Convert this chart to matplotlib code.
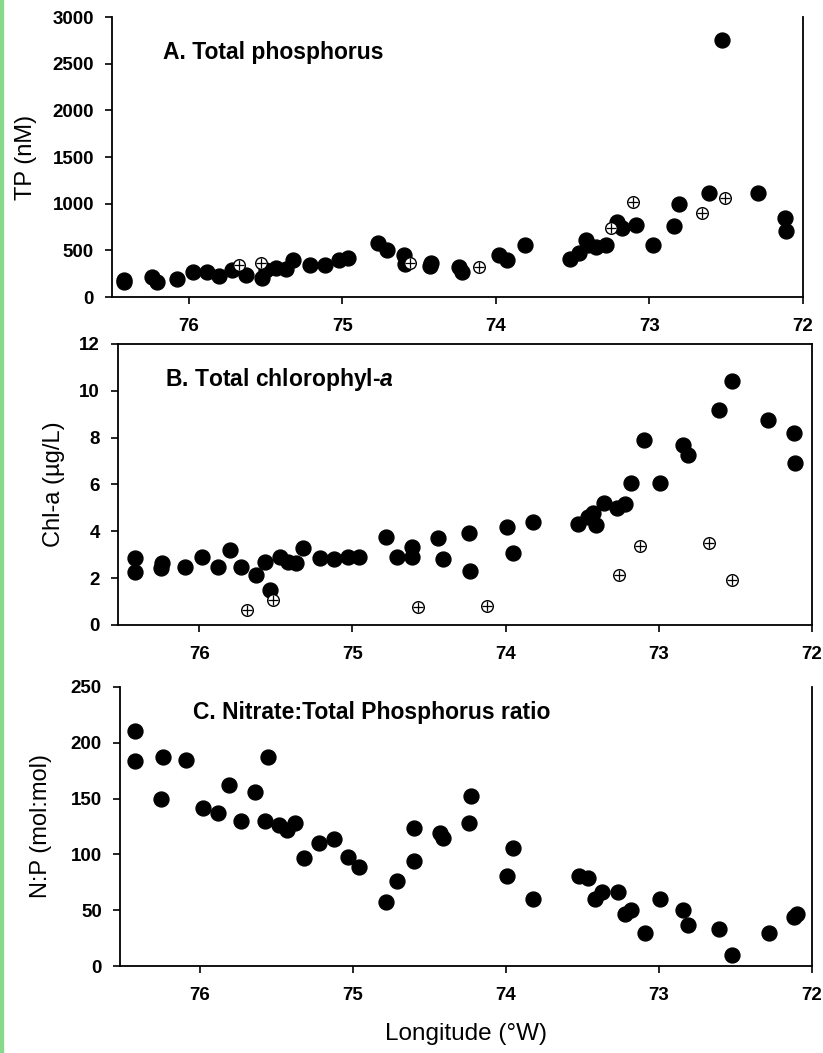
import numpy as np
import matplotlib.pyplot as plt
from matplotlib.patches import Rectangle

plt.rcParams['font.family'] = ['Liberation Sans', 'DejaVu Sans']
plt.rcParams['mathtext.fontset'] = 'custom'
plt.rcParams['mathtext.it'] = 'Liberation Sans:italic:bold'
plt.rcParams['mathtext.rm'] = 'Liberation Sans:bold'

# A. Total phosphorus (nM)
tp_lon = [76.42, 76.42, 76.24, 76.21, 76.08, 75.97, 75.88, 75.80, 75.72, 75.63,
          75.52, 75.50, 75.43, 75.37, 75.32, 75.21, 75.11, 75.02, 74.96, 74.77,
          74.71, 74.60, 74.59, 74.42, 74.43, 74.24, 74.22, 73.98, 73.93, 73.81,
          73.52, 73.46, 73.41, 73.40, 73.35, 73.28, 73.21, 73.18, 73.09, 72.98,
          72.84, 72.81, 72.61, 72.53, 72.29, 72.12, 72.11]
tp_val = [180, 160, 210, 165, 195, 265, 265, 225, 290, 235,
          200, 290, 310, 300, 395, 345, 345, 395, 420, 580,
          505, 450, 350, 365, 330, 320, 270, 450, 395, 555,
          405, 470, 610, 555, 535, 555, 800, 740, 770, 555,
          760, 995, 1115, 2750, 1115, 845, 705]
tp_open_lon = [75.67, 75.53, 74.56, 74.11, 73.25, 73.11, 72.66, 72.51]
tp_open_val = [340, 365, 365, 320, 740, 1020, 900, 1060]

# B. Total chlorophyll-a (ug/L)
chl_lon = [76.42, 76.42, 76.25, 76.24, 76.09, 75.98, 75.88, 75.80, 75.73, 75.63,
           75.57, 75.54, 75.47, 75.42, 75.37, 75.32, 75.21, 75.12, 75.03, 74.96,
           74.78, 74.71, 74.61, 74.61, 74.44, 74.41, 74.24, 74.23, 73.99, 73.95,
           73.82, 73.53, 73.46, 73.43, 73.41, 73.36, 73.27, 73.22, 73.18, 73.10,
           72.99, 72.84, 72.81, 72.61, 72.52, 72.29, 72.12, 72.11]
chl_val = [2.86, 2.26, 2.44, 2.65, 2.48, 2.91, 2.48, 3.20, 2.48, 2.14,
           2.69, 1.50, 2.90, 2.69, 2.65, 3.29, 2.86, 2.82, 2.90, 2.90,
           3.76, 2.90, 3.33, 2.90, 3.72, 2.82, 3.93, 2.31, 4.19, 3.08,
           4.40, 4.32, 4.62, 4.79, 4.27, 5.21, 5.00, 5.17, 6.07, 7.90,
           6.07, 7.69, 7.26, 9.19, 10.43, 8.76, 8.20, 6.92]
chl_open_lon = [75.69, 75.52, 74.57, 74.12, 73.26, 73.12, 72.67, 72.52]
chl_open_val = [0.64, 1.07, 0.77, 0.81, 2.14, 3.38, 3.50, 1.92]

# C. Nitrate : total phosphorus (mol:mol)
np_lon = [76.42, 76.42, 76.25, 76.24, 76.09, 75.98, 75.88, 75.81, 75.73, 75.64,
          75.57, 75.55, 75.48, 75.43, 75.38, 75.32, 75.22, 75.12, 75.03, 74.96,
          74.78, 74.71, 74.60, 74.60, 74.43, 74.41, 74.24, 74.23, 73.99, 73.95,
          73.82, 73.52, 73.46, 73.42, 73.37, 73.27, 73.22, 73.18, 73.09, 72.99,
          72.84, 72.81, 72.61, 72.52, 72.28, 72.12, 72.10]
np_val = [211, 184, 150, 187, 185, 142, 137, 162, 130, 156,
          130, 187, 126, 122, 128, 97, 110, 114, 98, 89,
          57, 76, 124, 94, 119, 115, 128, 152, 81, 106,
          60, 81, 79, 60, 66, 66, 47, 50, 30, 60,
          50, 37, 33, 10, 30, 44, 47]

xticks = [76, 75, 74, 73, 72]

fig = plt.figure(figsize=(8.23, 10.53), dpi=100)
fig.patches.append(Rectangle((0, 0), 3 / 823, 1, transform=fig.transFigure,
                             color='#86d98a', zorder=0))

axA = fig.add_axes([0.1361, 0.7179, 0.8396, 0.2659])
axB = fig.add_axes([0.1434, 0.4065, 0.8433, 0.2669])
axC = fig.add_axes([0.1458, 0.0826, 0.8408, 0.2650])


def style(ax, xmin, top_spine):
    ax.set_xlim(xmin, 72)
    ax.set_xticks(xticks)
    ax.set_xticklabels([str(t) for t in xticks])
    for s in ax.spines.values():
        s.set_linewidth(1.3)
    ax.spines['top'].set_visible(top_spine)
    ax.tick_params(axis='both', direction='out', length=5, width=1.2,
                   labelsize=13.5, right=False, top=False)
    ax.tick_params(axis='x', pad=10)
    ax.tick_params(axis='y', pad=8)
    for lab in ax.get_xticklabels() + ax.get_yticklabels():
        lab.set_fontweight('bold')


def draw_open(ax, lon, val):
    ax.scatter(lon, val, s=70, facecolor='white', edgecolor='black',
               linewidth=1.0, zorder=3)
    ax.scatter(lon, val, s=55, marker='+', color='black', linewidth=0.9, zorder=4)


# Panel A
axA.scatter(tp_lon, tp_val, s=115, color='black', zorder=2)
draw_open(axA, tp_open_lon, tp_open_val)
axA.set_ylim(0, 3000)
axA.set_yticks(range(0, 3001, 500))
style(axA, 76.5, False)
axA.set_ylabel('TP (nM)', fontsize=17)
axA.yaxis.set_label_coords(-0.109, 0.5)
axA.text(0.074, 0.875, 'A. Total phosphorus', transform=axA.transAxes,
         fontsize=16.5, fontweight='bold', va='center', ha='left')

# Panel B
axB.scatter(chl_lon, chl_val, s=115, color='black', zorder=2)
draw_open(axB, chl_open_lon, chl_open_val)
axB.set_ylim(0, 12)
axB.set_yticks(range(0, 13, 2))
style(axB, 76.53, True)
axB.set_ylabel('Chl-a (µg/L)', fontsize=17)
axB.yaxis.set_label_coords(-0.076, 0.5)
axB.text(0.068, 0.872, 'B. Total chlorophyl-$\\mathit{a}$', transform=axB.transAxes,
         fontsize=16.5, fontweight='bold', va='center', ha='left')

# Panel C
axC.scatter(np_lon, np_val, s=115, color='black', zorder=2)
axC.set_ylim(0, 250)
axC.set_yticks(range(0, 251, 50))
style(axC, 76.52, False)
axC.set_ylabel('N:P (mol:mol)', fontsize=17)
axC.yaxis.set_label_coords(-0.098, 0.5)
axC.set_xlabel('Longitude (°W)', fontsize=17.5)
axC.xaxis.set_label_coords(0.5, -0.205)
axC.text(0.105, 0.907, 'C. Nitrate:Total Phosphorus ratio', transform=axC.transAxes,
         fontsize=16.5, fontweight='bold', va='center', ha='left')

fig.savefig('out.png', dpi=100)
